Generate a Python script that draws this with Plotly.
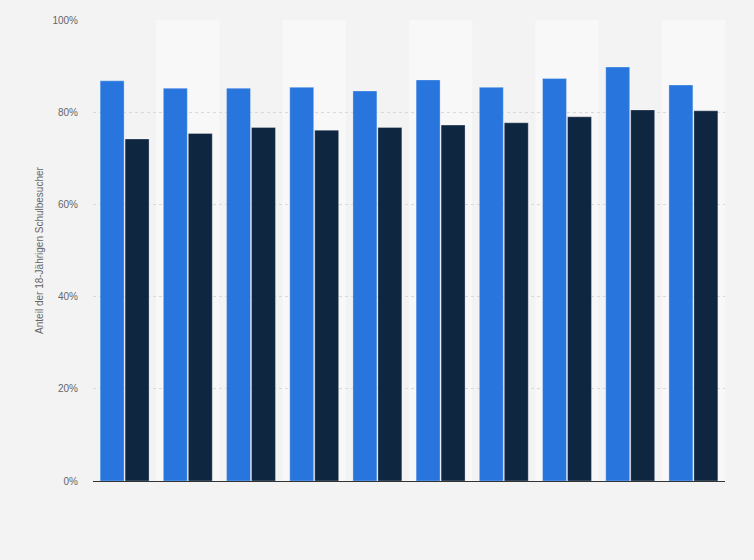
import plotly.graph_objects as go

categories = ["G1", "G2", "G3", "G4", "G5", "G6", "G7", "G8", "G9", "G10"]
series_a = [86.8, 85.2, 85.2, 85.4, 84.6, 87.0, 85.4, 87.3, 89.8, 85.9]
series_b = [74.2, 75.4, 76.7, 76.1, 76.7, 77.2, 77.7, 79.0, 80.5, 80.3]
y_ticks = [0, 20, 40, 60, 80, 100]
y_tick_labels = ["0%", "20%", "40%", "60%", "80%", "100%"]
y_title = "Anteil der 18-Jährigen Schulbesucher"

fig = go.Figure()
fig.add_trace(go.Bar(x=categories, y=series_a, name="A",
                     marker=dict(color="#2876dd", line=dict(color="rgba(255,255,255,0.3)", width=1))))
fig.add_trace(go.Bar(x=categories, y=series_b, name="B",
                     marker=dict(color="#0f2640", line=dict(color="rgba(255,255,255,0.3)", width=1))))

shapes = []
for i in range(1, len(categories), 2):
    shapes.append(dict(type="rect", xref="x", yref="paper", x0=i - 0.5, x1=i + 0.5,
                       y0=0, y1=1, fillcolor="#f8f8f8", line=dict(width=0), layer="below"))

fig.update_layout(
    width=754, height=560,
    margin=dict(l=93, r=29, t=20, b=79),
    paper_bgcolor="#f3f3f3", plot_bgcolor="#f3f3f3",
    barmode="group", bargap=0.21, bargroupgap=0.04,
    showlegend=False,
    shapes=shapes,
    font=dict(family="Liberation Sans, Arial, sans-serif", size=10, color="#666666"),
)
fig.update_xaxes(showticklabels=False, showgrid=False, zeroline=False,
                 showline=True, linecolor="#333333", linewidth=1, ticks="",
                 range=[-0.5, len(categories) - 0.5])
fig.update_yaxes(range=[0, 100], tickmode="array", tickvals=y_ticks, ticktext=y_tick_labels,
                 showgrid=True, gridcolor="#d9d9d9", griddash="dot", gridwidth=1,
                 zeroline=False, showline=False, ticks="", ticklabelstandoff=14,
                 title=dict(text=y_title, standoff=6, font=dict(size=10, color="#666666")))

fig.write_html("out.html", config={"displayModeBar": False},
               post_script="document.body.style.margin='0';document.body.style.overflow='hidden';")
